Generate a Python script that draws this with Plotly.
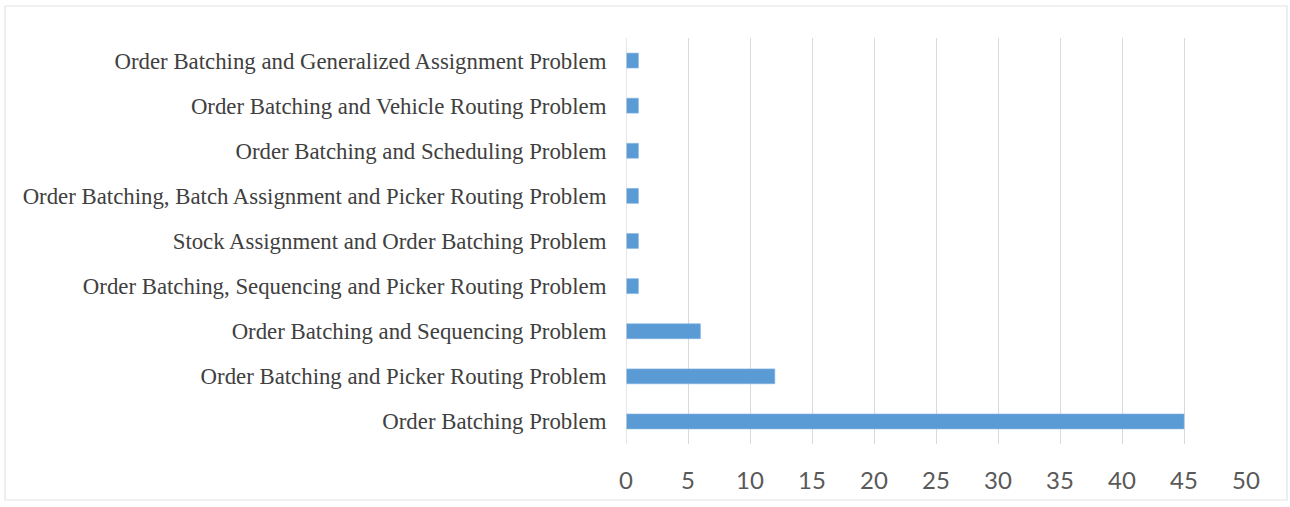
import plotly.graph_objects as go

# Problem types (listed bottom to top) and number of studies for each
problems = [
    "Order Batching Problem",
    "Order Batching and Picker Routing Problem",
    "Order Batching and Sequencing Problem",
    "Order Batching, Sequencing and Picker Routing Problem",
    "Stock Assignment and Order Batching Problem",
    "Order Batching, Batch Assignment and Picker Routing Problem",
    "Order Batching and Scheduling Problem",
    "Order Batching and Vehicle Routing Problem",
    "Order Batching and Generalized Assignment Problem",
]
counts = [45, 12, 6, 1, 1, 1, 1, 1, 1]
x_ticks = [0, 5, 10, 15, 20, 25, 30, 35, 40, 45, 50]

W, H = 1290, 507
L, R, T, B = 626, 44, 38, 63
pw, ph = W - L - R, H - T - B

fig = go.Figure(
    go.Bar(
        x=counts,
        y=problems,
        orientation="h",
        marker=dict(color="#5B9BD5", line=dict(color="#7FB2E0", width=0.6)),
        hoverinfo="x+y",
    )
)

fig.update_layout(
    width=W,
    height=H,
    margin=dict(l=L, r=R, t=T, b=B),
    paper_bgcolor="white",
    plot_bgcolor="white",
    bargap=0.67,
    showlegend=False,
    xaxis=dict(
        range=[0, 50],
        tickvals=x_ticks,
        showgrid=True,
        gridcolor="#D9D9D9",
        gridwidth=1.3,
        zeroline=False,
        showline=False,
        ticks="outside",
        ticklen=15,
        tickcolor="rgba(0,0,0,0)",
        tickfont=dict(family="Lato, Open Sans, sans-serif", size=24, color="#595959"),
    ),
    yaxis=dict(
        categoryorder="array",
        categoryarray=problems,
        showgrid=False,
        zeroline=False,
        showline=False,
        ticks="outside",
        ticklen=14,
        tickcolor="rgba(0,0,0,0)",
        tickfont=dict(family="Liberation Serif, Times New Roman, serif", size=22.8, color="#404040"),
    ),
    shapes=[
        # vertical axis line at zero
        dict(type="line", xref="x", yref="paper", x0=0, x1=0, y0=0, y1=1,
             line=dict(color="#D9D9D9", width=1.3)),
        # outer chart frame
        dict(type="rect", xref="paper", yref="paper",
             x0=(5 - L) / pw, x1=(1287 - L) / pw,
             y0=(T + ph - 500) / ph, y1=1 + (T - 6) / ph,
             line=dict(color="#E3E3E3", width=1.2), layer="below"),
    ],
)

fig.write_html("out.html")
